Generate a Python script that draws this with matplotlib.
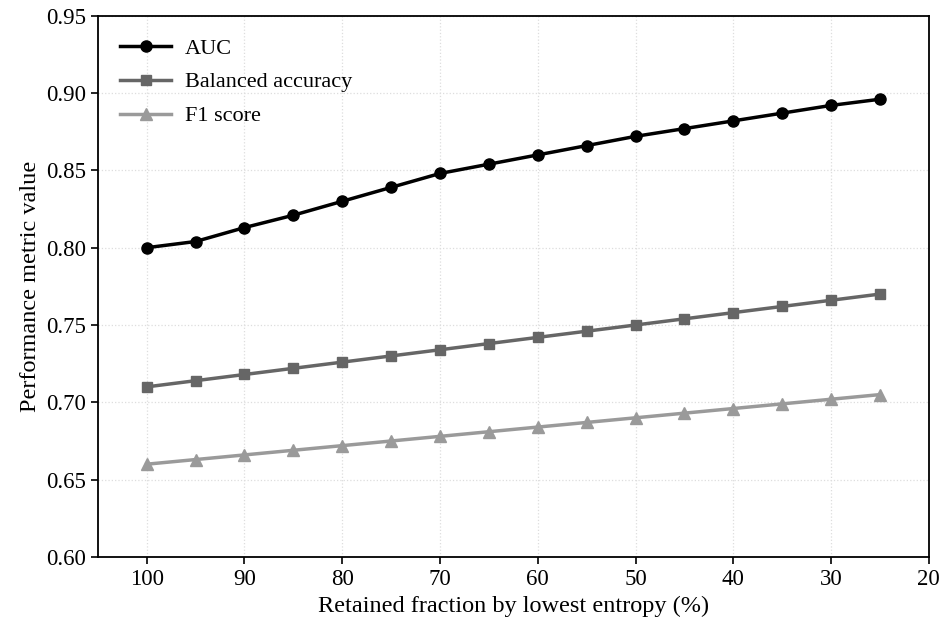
import matplotlib
matplotlib.use("Agg")
import matplotlib.pyplot as plt

# retained fraction (%), lowest-entropy samples kept
retained = [100, 95, 90, 85, 80, 75, 70, 65, 60, 55, 50, 45, 40, 35, 30, 25]

auc = [0.800, 0.804, 0.813, 0.821, 0.830, 0.839, 0.848, 0.854,
       0.860, 0.866, 0.872, 0.877, 0.882, 0.887, 0.892, 0.896]
bal_acc = [0.710, 0.714, 0.718, 0.722, 0.726, 0.730, 0.734, 0.738,
           0.742, 0.746, 0.750, 0.754, 0.758, 0.762, 0.766, 0.770]
f1 = [0.660, 0.663, 0.666, 0.669, 0.672, 0.675, 0.678, 0.681,
      0.684, 0.687, 0.690, 0.693, 0.696, 0.699, 0.702, 0.705]

xticks = [100, 90, 80, 70, 60, 50, 40, 30, 20]
yticks = [0.60, 0.65, 0.70, 0.75, 0.80, 0.85, 0.90, 0.95]

plt.rcParams['font.family'] = ['Liberation Serif', 'DejaVu Serif']

fig = plt.figure(figsize=(9.41, 6.29), dpi=100)
ax = fig.add_axes([0.104, 0.1145, 0.883, 0.8605])

ax.plot(retained, auc, color='black', marker='o', markersize=8, linewidth=2.5, label='AUC')
ax.plot(retained, bal_acc, color='#666666', marker='s', markersize=7.5, linewidth=2.5, label='Balanced accuracy')
ax.plot(retained, f1, color='#9a9a9a', marker='^', markersize=8, linewidth=2.5, label='F1 score')

ax.set_xlim(105, 20)
ax.set_ylim(0.60, 0.95)
ax.set_xticks(xticks)
ax.set_yticks(yticks)
ax.set_yticklabels(['%.2f' % v for v in yticks])
ax.tick_params(labelsize=16.5, direction='out', length=5, width=1.2)

ax.grid(True, linestyle=':', color='#dddddd', linewidth=0.9)
for s in ax.spines.values():
    s.set_linewidth(1.3)

ax.set_xlabel('Retained fraction by lowest entropy (%)', fontsize=17.5)
ax.set_ylabel('Performance metric value', fontsize=17.5)
ax.legend(loc='upper left', frameon=False, fontsize=16, handlelength=2.3,
          handletextpad=0.6, borderaxespad=0.6, labelspacing=0.6)

fig.savefig('out.png', dpi=100)
